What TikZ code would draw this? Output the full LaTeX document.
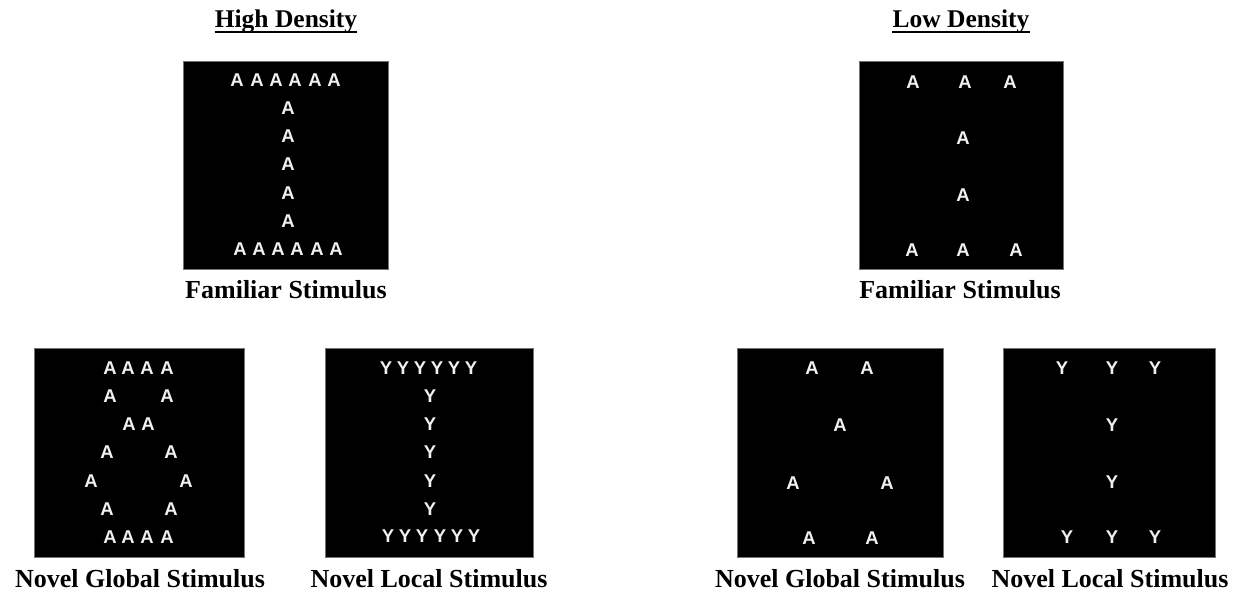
\documentclass[tikz,border=0pt]{standalone}
\usepackage{fontspec}
\setmainfont{Liberation Serif}
\newfontfamily\letterfont{Liberation Sans}
\begin{document}
\begin{tikzpicture}[x=1pt,y=-1pt,
  stimbox/.style={fill=black,draw=black!55,line width=0.6pt,inner sep=0pt},
  glyph/.style={text=black!6,inner sep=0pt,font=\fontsize{18.5}{18.5}\selectfont\letterfont\bfseries},
  caption/.style={inner sep=0pt,anchor=base,font=\fontsize{26}{28}\selectfont\bfseries},
  heading/.style={inner sep=0pt,anchor=base,font=\fontsize{25.5}{28}\selectfont\bfseries},
  uline/.style={line width=1.6pt}]
\useasboundingbox (0,0) rectangle (1239,592);
\fill[white] (0,0) rectangle (1239,592);

% headings
\node[heading] (hd) at (286,27.5) {High Density};
\draw[uline] ([yshift=-4.5pt]hd.base west) -- ([yshift=-4.5pt]hd.base east);
\node[heading] (ld) at (961,27.5) {Low Density};
\draw[uline] ([yshift=-4.5pt]ld.base west) -- ([yshift=-4.5pt]ld.base east);

% boxes
\node[stimbox,minimum width=205pt,minimum height=208pt] (hfam) at (285.5,165) {};
\node[stimbox,minimum width=210pt,minimum height=209pt] (hglob) at (139,452.5) {};
\node[stimbox,minimum width=208pt,minimum height=209pt] (hloc) at (429,452.5) {};
\node[stimbox,minimum width=204pt,minimum height=208pt] (lfam) at (961,165) {};
\node[stimbox,minimum width=206pt,minimum height=209pt] (lglob) at (840,452.5) {};
\node[stimbox,minimum width=212pt,minimum height=209pt] (lloc) at (1109,452.5) {};

% captions
\node[caption] (hfamcap) at (286,298) {Familiar Stimulus};
\node[caption] (lfamcap) at (960,298) {Familiar Stimulus};
\node[caption] (hglobcap) at (140,587) {Novel Global Stimulus};
\node[caption] (hloccap) at (429,587) {Novel Local Stimulus};
\node[caption] (lglobcap) at (840,587) {Novel Global Stimulus};
\node[caption] (lloccap) at (1110,587) {Novel Local Stimulus};

% High density familiar
\foreach \x [count=\i] in {237,257,276,295,315,334}
  \node[glyph] (hft\i) at (\x,80) {A};
\foreach \y [count=\i] in {108.2,136.3,164.5,192.7,220.8}
  \node[glyph] (hfm\i) at (288,\y) {A};
\foreach \x [count=\i] in {240,259,278,297,317,336}
  \node[glyph] (hfb\i) at (\x,249) {A};

% High density novel global
\foreach \x [count=\i] in {110,128,147,167}
  \node[glyph] (hgt\i) at (\x,368) {A};
\foreach \x [count=\i] in {110,167}
  \node[glyph] (hga\i) at (\x,396.2) {A};
\foreach \x [count=\i] in {129,148}
  \node[glyph] (hgb\i) at (\x,424.3) {A};
\foreach \x [count=\i] in {107,171}
  \node[glyph] (hgc\i) at (\x,452.5) {A};
\foreach \x [count=\i] in {91,186}
  \node[glyph] (hgd\i) at (\x,480.7) {A};
\foreach \x [count=\i] in {107,171}
  \node[glyph] (hge\i) at (\x,508.8) {A};
\foreach \x [count=\i] in {110,128,147,167}
  \node[glyph] (hgf\i) at (\x,537) {A};

% High density novel local
\foreach \x [count=\i] in {386,403,420,437,454,471}
  \node[glyph] (hlt\i) at (\x,368) {Y};
\foreach \y [count=\i] in {396.2,424.3,452.5,480.7,508.8}
  \node[glyph] (hlm\i) at (430,\y) {Y};
\foreach \x [count=\i] in {388,405,422,440,457,474}
  \node[glyph] (hlb\i) at (\x,536) {Y};

% Low density familiar
\foreach \x [count=\i] in {913,965,1010}
  \node[glyph] (lft\i) at (\x,82) {A};
\node[glyph] (lfm1) at (963,138) {A};
\node[glyph] (lfm2) at (963,195) {A};
\foreach \x [count=\i] in {912,963,1016}
  \node[glyph] (lfb\i) at (\x,250) {A};

% Low density novel global
\node[glyph] (lg1) at (812,368) {A};
\node[glyph] (lg2) at (867,368) {A};
\node[glyph] (lg3) at (840,425) {A};
\node[glyph] (lg4) at (793,483) {A};
\node[glyph] (lg5) at (887,483) {A};
\node[glyph] (lg6) at (809,538) {A};
\node[glyph] (lg7) at (872,538) {A};

% Low density novel local
\foreach \x [count=\i] in {1062,1112,1155}
  \node[glyph] (llt\i) at (\x,368) {Y};
\node[glyph] (llm1) at (1112,425) {Y};
\node[glyph] (llm2) at (1112,482) {Y};
\foreach \x [count=\i] in {1067,1112,1155}
  \node[glyph] (llb\i) at (\x,537) {Y};
\end{tikzpicture}
\end{document}
